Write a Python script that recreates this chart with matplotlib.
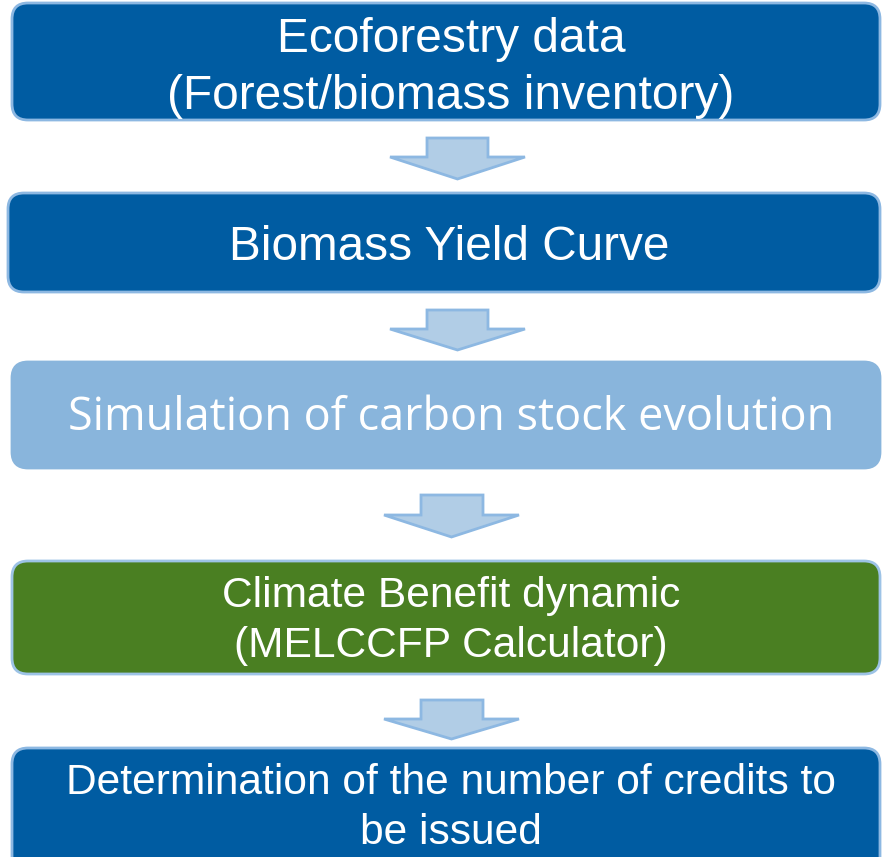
import matplotlib
matplotlib.use('Agg')
import matplotlib.pyplot as plt
from matplotlib.patches import FancyBboxPatch, Polygon

# flowchart steps
labels = ['Ecoforestry data\n(Forest/biomass inventory)',
          'Biomass Yield Curve',
          'Simulation of carbon stock evolution',
          'Climate Benefit dynamic\n(MELCCFP Calculator)',
          'Determination of the number of credits to\nbe issued']
fills = ['#005ca2', '#005ca2', '#89b5dc', '#4a7f22', '#005ca2']
edges = ['#8db8e2', '#8db8e2', '#89b5dc', '#9dc3e6', '#8db8e2']
fonts = ['Liberation Sans', 'Liberation Sans', 'Open Sans', 'Liberation Sans', 'Liberation Sans']
sizes = [34.5, 34.4, 32.4, 30.6, 30.6]

# box layout in pixels (x0, y0, x1, y1)
boxes = [(12, 3, 880, 120), (8, 193, 880, 292), (12, 362, 880, 468),
         (12, 561, 880, 674), (12, 748, 880, 875)]
text_y = [68, 247, 418, 621, 808]
# arrows: (shaft left, shaft right, top, head base, head left, head right, tip)
arrows = [(427, 488, 138, 157, 390, 525, 179),
          (427, 488, 310, 329, 390, 525, 350),
          (421, 483, 495, 515, 384, 519, 537),
          (421, 483, 700, 719, 384, 519, 739)]

fig = plt.figure(figsize=(8.82, 8.57), dpi=100)
ax = fig.add_axes([0, 0, 1, 1])
ax.set_xlim(0, 882)
ax.set_ylim(857, 0)
ax.axis('off')

for (x0, y0, x1, y1), lab, fc, ec, fn, fs, ty in zip(boxes, labels, fills, edges, fonts, sizes, text_y):
    p = FancyBboxPatch((x0, y0), x1 - x0, y1 - y0,
                       boxstyle='round,pad=0,rounding_size=16',
                       facecolor=fc, edgecolor=ec, linewidth=2)
    ax.add_patch(p)
    ax.text((x0 + x1) / 2 + 5, ty, lab, color='white', fontsize=fs, family=fn,
            ha='center', va='center', linespacing=1.32)

for sl, sr, top, hb, hl, hr, tip in arrows:
    pts = [(sl, top), (sr, top), (sr, hb), (hr, hb), ((hl + hr) / 2, tip),
           (hl, hb), (sl, hb)]
    ax.add_patch(Polygon(pts, closed=True, facecolor='#b1cde6', edgecolor='#8db8e2', linewidth=2))

fig.savefig('out.png', dpi=100)
